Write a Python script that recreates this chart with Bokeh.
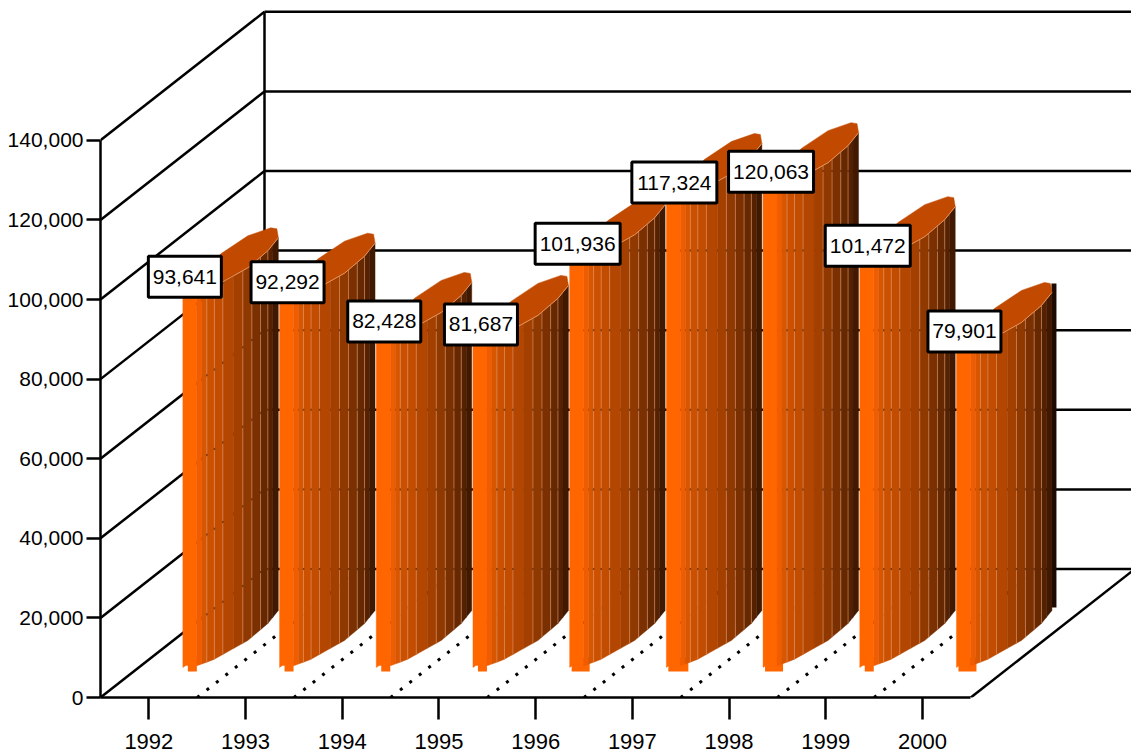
from bokeh.embed import file_html
from bokeh.resources import INLINE
from bokeh.plotting import figure
from bokeh.models import Range1d, FixedTicker, NumeralTickFormatter
from bokeh.core.properties import value

years = ["1992", "1993", "1994", "1995", "1996", "1997", "1998", "1999", "2000"]
sales = [93641, 92292, 82428, 81687, 101936, 117324, 120063, 101472, 79901]
value_ticks = [0, 20000, 40000, 60000, 80000, 100000, 120000, 140000]

band_colors = ["#ff6600", "#f05c00", "#d95600", "#cb5000", "#c24c00", "#b34600", "#a34000",
               "#8f3800", "#7a3000", "#662800", "#552100", "#401900"]
band_edges = [0, 14, 19, 24, 31.5, 40, 51, 60, 69, 77.7, 85, 90, 95.5]
sheen_edges = [24, 31.5, 40, 60, 69, 77.7, 85]
floor_profile = [(0, 30), (3, 32), (15, 32), (31, 38), (65, 57), (85, 74), (95.5, 87)]
cap_profile = [(0, 32), (15, 46), (38, 71), (65, 89), (88, 97), (94, 96), (95.5, 87)]
stub_widths = [9, 9, 9, 9, 18, 20, 18, 9, 18]

FONT = "Liberation Sans"
PX_X = 96.7          # pixels per category
PX_Y = 79.6 / 20000  # pixels per sales unit
DEPTH_X = 164 / PX_X
DEPTH_Y = 128.5 / PX_Y
WALL = 2.5

p = figure(width=1131, height=756, output_backend="svg", toolbar_location=None,
           x_range=Range1d(0.5, 0.5 + 1031 / PX_X), y_range=Range1d(0, 697 / PX_Y),
           min_border_left=100, min_border_right=0, min_border_top=0, min_border_bottom=59,
           background_fill_color="white", border_fill_color="white", outline_line_color=None)
p.grid.visible = False


def interp(profile, dx):
    for (x0, y0), (x1, y1) in zip(profile, profile[1:]):
        if x0 <= dx <= x1:
            return y0 + (y1 - y0) * (dx - x0) / (x1 - x0)
    return profile[-1][1]


def strip(profile, a, b):
    inner = [q[0] for q in profile if a < q[0] < b]
    return [a] + inner + [b]


# Walls and floor
for v in value_ticks:
    p.line([0.5, 0.5 + DEPTH_X], [v, v + DEPTH_Y], line_color="black", line_width=WALL)
    p.line([0.5 + DEPTH_X, 12], [v + DEPTH_Y, v + DEPTH_Y], line_color="black", line_width=WALL)
p.line([0.5 + DEPTH_X, 0.5 + DEPTH_X], [DEPTH_Y, 140000 + DEPTH_Y], line_color="black", line_width=WALL)
p.line([9.5, 9.5 + DEPTH_X], [0, DEPTH_Y], line_color="black", line_width=WALL)

# Dotted category dividers across the floor
for i in range(8):
    c = i + 1.5
    p.line([c, c + DEPTH_X], [0, DEPTH_Y], line_color="black", line_width=3, line_dash="3 9")

# Columns, back to front along the axis
for i, v in enumerate(sales):
    left = i + 1 + 34 / PX_X

    def xd(dx):
        return left + dx / PX_X

    w = stub_widths[i]
    x_stub = 5 if w < 15 else 2
    p.quad(left=xd(x_stub), right=xd(x_stub + w), bottom=26 / PX_Y, top=40 / PX_Y,
           fill_color=band_colors[0], line_color=None)

    # The last column has nothing standing in front of its dark rear edge
    if i == len(sales) - 1:
        p.quad(left=xd(95), right=xd(100), bottom=90 / PX_Y, top=96 / PX_Y + v,
               fill_color="#1c0a00", line_color=None)

    for c, a, b in zip(band_colors, band_edges, band_edges[1:]):
        dxs = strip(floor_profile, a, b)
        low = [interp(floor_profile, d) / PX_Y for d in dxs]
        high = [interp(floor_profile, d) / PX_Y + v for d in dxs]
        p.patch([xd(d) for d in dxs] + [xd(d) for d in reversed(dxs)],
                low + list(reversed(high)), fill_color=c, line_color=c, line_width=0.4)

    for d in sheen_edges:
        base = interp(floor_profile, d) / PX_Y
        p.line([xd(d), xd(d)], [base, base + v], line_color="#e59a6c", line_width=0.8, line_alpha=0.75)

        # Wall lines glimpsed through the gaps between the bands
        x_here = xd(d)
        for t in value_ticks:
            if x_here >= 0.5 + DEPTH_X:
                level = t + DEPTH_Y
            else:
                level = t + (x_here - 0.5) / DEPTH_X * DEPTH_Y
            if base < level < base + v:
                p.rect(x_here, level, width=1.5, height=2, width_units="screen", height_units="screen",
                       fill_color="#4a1e00", fill_alpha=0.6, line_color=None)

    cap_x = [xd(d) for d, _ in cap_profile] + [xd(d) for d, _ in reversed(floor_profile)]
    cap_y = [h / PX_Y + v for _, h in cap_profile] + [h / PX_Y + v for _, h in reversed(floor_profile)]
    p.patch(cap_x, cap_y, fill_color="#c24a00", line_color="#c24a00", line_width=0.5)
    p.line([xd(d) for d, _ in floor_profile], [h / PX_Y + v for _, h in floor_profile],
           line_color="#e9a679", line_width=0.8)

# Value labels
for i, v in enumerate(sales):
    text = f"{v:,}"
    cx = i + 1 + (36 if i == 0 else 42) / PX_X
    cy = v + 48 / PX_Y
    wide = len(text) > 6
    p.rect(cx, cy, width=85 if wide else 73, height=41, width_units="screen", height_units="screen",
           fill_color="white", line_color="black", line_width=3)
    p.text([cx], [cy], text=[text], text_align="center", text_baseline="middle",
           text_font=value(FONT), text_font_size="21px", text_color="black")

# Axes
ax = p.yaxis[0]
ax.bounds = (0, 140000)
ax.ticker = FixedTicker(ticks=value_ticks)
ax.formatter = NumeralTickFormatter(format="0,0")
ax.major_tick_in = 0
ax.major_tick_out = 14
ax.minor_tick_line_color = None
ax.axis_line_width = WALL
ax.major_tick_line_width = WALL
ax.major_label_standoff = 3
ax.major_label_text_font = FONT
ax.major_label_text_font_size = "21px"
ax.major_label_text_color = "black"

bx = p.xaxis[0]
bx.bounds = (0.5, 9.5)
bx.ticker = FixedTicker(ticks=list(range(1, 10)))
bx.major_label_overrides = {i + 1: y for i, y in enumerate(years)}
bx.major_tick_in = 0
bx.major_tick_out = 22
bx.minor_tick_line_color = None
bx.axis_line_width = WALL
bx.major_tick_line_width = WALL
bx.major_label_standoff = 14
bx.major_label_text_font = FONT
bx.major_label_text_font_size = "22px"
bx.major_label_text_color = "black"

open("out.html", "w").write(file_html(p, INLINE))
